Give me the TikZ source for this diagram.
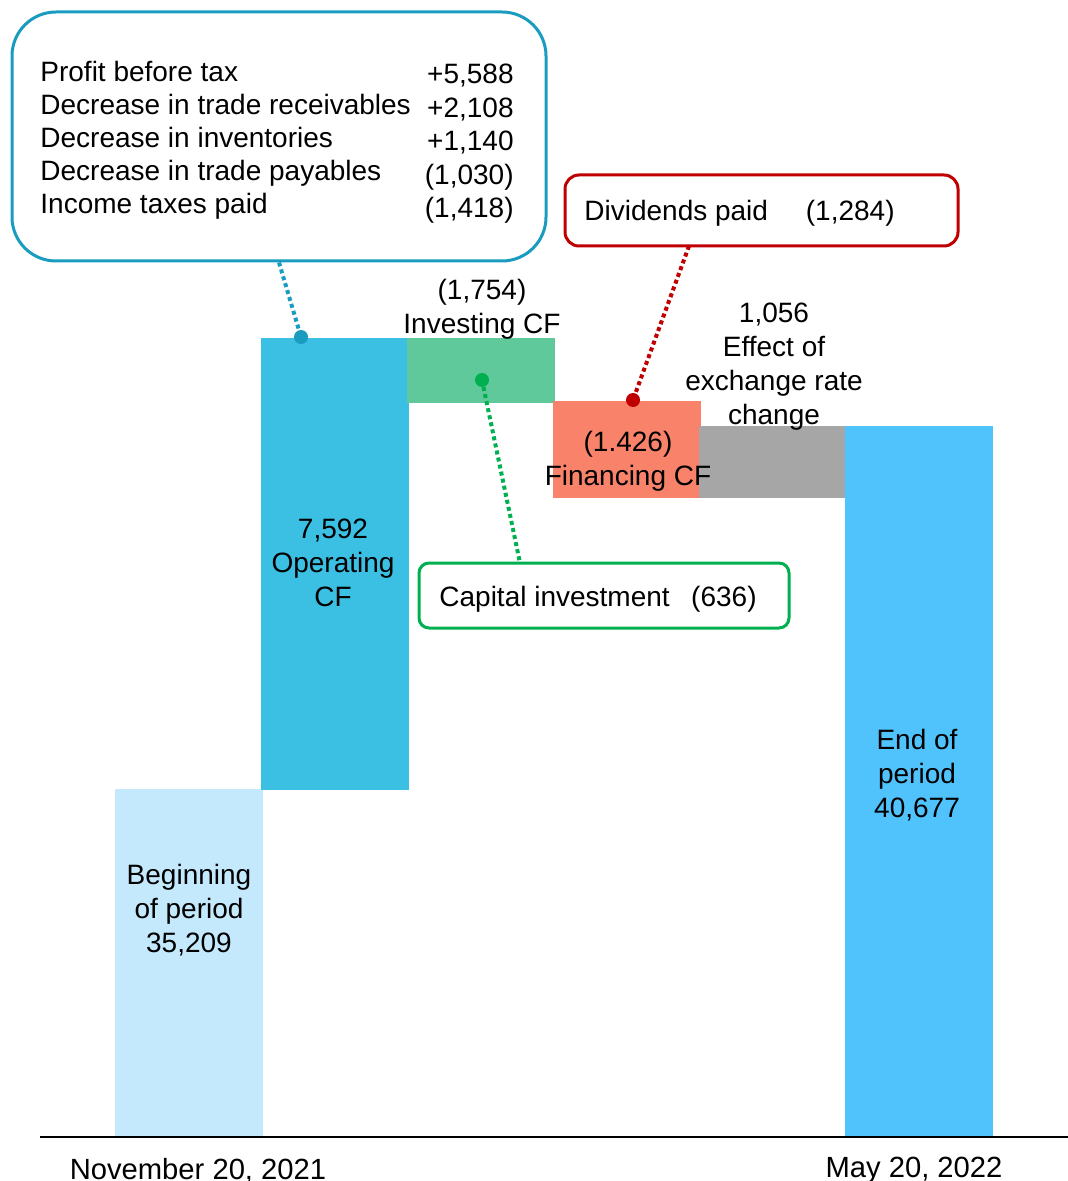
\documentclass[tikz,border=0pt]{standalone}
\usepackage{fontspec}
\setmainfont{Liberation Sans}
\usetikzlibrary{calc}
\definecolor{startbar}{HTML}{C4E9FC}
\definecolor{opbar}{HTML}{3BBFE3}
\definecolor{invbar}{HTML}{5FC99C}
\definecolor{finbar}{HTML}{F9836A}
\definecolor{fxbar}{HTML}{A6A6A6}
\definecolor{endbar}{HTML}{50C3FC}
\definecolor{opline}{HTML}{1A9CC0}
\definecolor{divline}{HTML}{C00000}
\definecolor{capline}{HTML}{00B050}

\begin{document}
\begin{tikzpicture}[x=0.5pt, y=-0.5pt, font=\fontsize{14}{17}\selectfont,
  lbl/.style={align=center, inner sep=0pt},
  callout/.style={draw, line width=1.5pt, fill=white, inner sep=0pt},
  leader/.style={line width=2pt, dash pattern=on 2pt off 1.6pt},
  ]
  \useasboundingbox (0,0) rectangle (1068,1181);
  % waterfall bars
  \fill[startbar] (115,789) rectangle (263,1137);
  \fill[opbar] (261,338) rectangle (409,790);
  \fill[invbar] (407,338) rectangle (555,403);
  \fill[finbar] (553,401) rectangle (701,498);
  \fill[fxbar] (699,426) rectangle (846,498);
  \fill[endbar] (845,426) rectangle (993,1137);
  % axis
  \draw[line width=0.6pt] (40,1137) -- (1068,1137);
  % bar labels
  \node[lbl] (startlbl) at (189,910) {Beginning\\of period\\35,209};
  \node[lbl] (oplbl) at (333,563) {7,592\\Operating\\CF};
  \node[lbl] (invlbl) at (482,309) {(1,754)\\Investing CF};
  \node[lbl] (finlbl) at (628,461) {(1.426)\\Financing CF};
  \node[lbl] (fxlbl) at (774,367) {1,056\\Effect of\\exchange rate\\change};
  \node[lbl] (endlbl) at (917,775) {End of\\period\\40,677};
  \node[lbl, anchor=base, font=\fontsize{14.6}{17}\selectfont] (startdate) at (198,1179) {November 20, 2021};
  \node[lbl, anchor=base, font=\fontsize{14.6}{17}\selectfont] (enddate) at (914,1177) {May 20, 2022};
  % operating CF breakdown
  \node[callout, draw=opline, rounded corners=22pt,
        minimum width=267pt, minimum height=124.5pt] (opbox) at (279,136.5) {};
  \foreach \item/\amount [count=\r from 0] in {{Profit before tax}/{+5,588},
      {Decrease in trade receivables}/{+2,108}, {Decrease in inventories}/{+1,140},
      {Decrease in trade payables}/{(1,030)}, {Income taxes paid}/{(1,418)}} {
    \node[lbl, anchor=base west] (row\r) at (40,82+33*\r) {\item};
    \node[lbl, anchor=base east] (amt\r) at (514,84+33.4*\r) {\amount};
  }
  % financing and investing details
  \node[callout, draw=divline, rounded corners=7pt,
        minimum width=196.5pt, minimum height=35.5pt] (divbox) at (761.5,210.5) {};
  \node[lbl, anchor=base west] (divname) at (584,221) {Dividends paid};
  \node[lbl, anchor=base east] (divamt) at (895,221) {(1,284)};
  \node[callout, draw=capline, rounded corners=5pt,
        minimum width=185pt, minimum height=32.5pt] (capbox) at (604,595.5) {};
  \node[lbl, anchor=base west] (capname) at (439,606) {Capital investment};
  \node[lbl, anchor=base east] (capamt) at (757,606) {(636)};
  % leader lines with dots
  \coordinate (opdot) at (301,337);
  \coordinate (divfoot) at (689,246);
  \coordinate (findot) at (633,400);
  \coordinate (invdot) at (482,380);
  \coordinate (capfoot) at (520,563);
  \draw[leader, opline] (opbox.south) -- (opdot);
  \draw[leader, divline] (divfoot) -- (findot);
  \draw[leader, capline] (invdot) -- (capfoot);
  \fill[opline] (opdot) circle (3.5pt);
  \fill[divline] (findot) circle (3.5pt);
  \fill[capline] (invdot) circle (3.5pt);
\end{tikzpicture}
\end{document}
